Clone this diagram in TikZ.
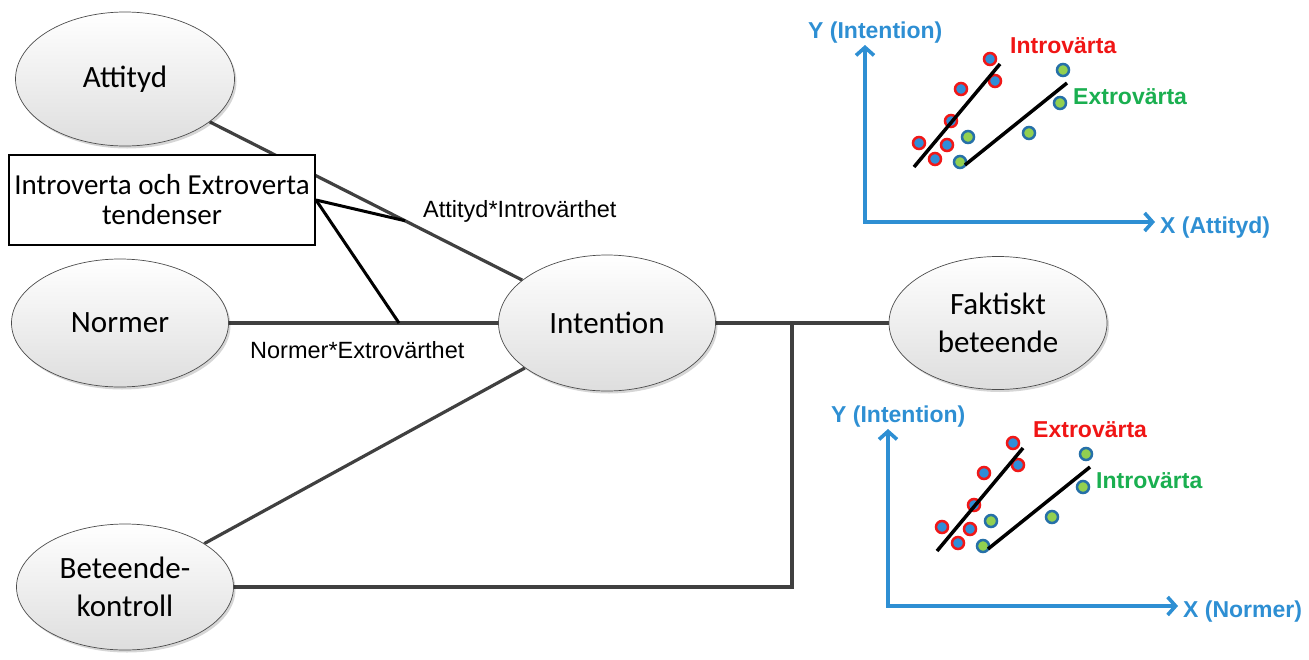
\documentclass[tikz,border=0pt]{standalone}
\usepackage{fontspec}
\setmainfont{Carlito}
\newfontfamily\arialfont{Liberation Sans}
\usetikzlibrary{shapes.geometric,shadows,arrows.meta,calc,backgrounds}

\definecolor{linegray}{HTML}{404040}
\definecolor{axisblue}{HTML}{2E8FD3}
\definecolor{dotblue}{HTML}{2F8ED8}
\definecolor{ringblue}{HTML}{2670A8}
\definecolor{dotgreen}{HTML}{92D050}
\definecolor{ringred}{HTML}{F01818}
\definecolor{labelred}{HTML}{F01515}
\definecolor{labelgreen}{HTML}{1AAF50}

% One small scatter panel: #1 name prefix, #2 x-axis title,
% #3 label of the steep (red-ringed) group, #4 label of the flat (green) group
\newcommand{\scatterpanel}[4]{%
  \coordinate (#1ytip) at (865,45);
  \coordinate (#1xtip) at (1155,222);
  \draw[axisline] (#1ytip) |- (#1xtip);
  \node[axislabel, anchor=base west] (#1ylab) at (808,38) {Y (Intention)};
  \node[axislabel, anchor=base west] (#1xlab) at (1160,233) {#2};
  \node[grouplabel, text=labelred, anchor=base west] (#1rlab) at (1010,53) {#3};
  \node[grouplabel, text=labelgreen, anchor=base west] (#1glab) at (1073,104) {#4};
  \foreach \p in {(990,59),(995,81),(961,89),(951,121),(919,143),(947,145),(935,159)}
    \draw[reddot] \p circle[radius=6];
  \foreach \p in {(1063,70),(1060,103),(968,137),(1029,133),(960,162)}
    \draw[greendot] \p circle[radius=6];
  \draw[fitline] (914,167) -- (1000,64);
  \draw[fitline] (965,165) -- (1067,83);
}

\begin{document}
\begin{tikzpicture}[x=1pt,y=-1pt,
  construct/.style={ellipse, draw=black!70, line width=0.7pt,
    top color=white, bottom color=black!13,
    drop shadow={shadow xshift=2pt, shadow yshift=-2.5pt, fill=black, opacity=0.16},
    align=center, inner sep=0pt, font=\fontsize{31}{38}\selectfont},
  tbox/.style={draw=black, line width=2pt, fill=white, align=center,
    minimum width=306pt, minimum height=90pt, inner sep=0pt,
    font=\fontsize{29}{30}\selectfont},
  link/.style={draw=linegray, line width=3.2pt},
  modlink/.style={draw=black, line width=3pt},
  edgelabel/.style={font=\arialfont\fontsize{23.5}{28}\selectfont, inner sep=0pt},
  axisline/.style={draw=axisblue, line width=3.6pt,
    {Straight Barb[length=8pt,width=18pt]}-{Straight Barb[length=8pt,width=18pt]}},
  axislabel/.style={text=axisblue, inner sep=0pt, font=\arialfont\bfseries\fontsize{23}{26}\selectfont},
  grouplabel/.style={inner sep=0pt, font=\arialfont\bfseries\fontsize{23}{26}\selectfont},
  reddot/.style={draw=ringred, fill=dotblue, line width=2.5pt},
  greendot/.style={draw=ringblue, fill=dotgreen, line width=2.5pt},
  fitline/.style={draw=black, line width=3.5pt},
]
\useasboundingbox (0,0) rectangle (1309,659);

% constructs of the model
\node[construct, minimum width=219pt, minimum height=134pt] (att) at (125,79) {Attityd};
\node[construct, minimum width=217pt, minimum height=128pt] (nor) at (120,323) {Normer};
\node[construct, minimum width=217pt, minimum height=136pt] (int) at (607,323) {Intention};
\node[construct, minimum width=218pt, minimum height=133pt] (fak) at (998,323) {Faktiskt\\beteende};
\node[construct, minimum width=217pt, minimum height=126pt] (bet) at (125,587) {Beteende-\\kontroll};
\node[tbox] (box) at (162,200) {Introverta och Extroverta\\tendenser};

% junction points on the paths
\coordinate (ai) at ($(att)!0.581!(int)$);
\coordinate (ne) at (399,323);
\coordinate (jn) at (792,323);

\begin{pgfonlayer}{background}
  \draw[link] (att) -- (int);
  \draw[link] (nor) -- (int);
  \draw[link] (bet) -- (int);
  \draw[link] (int) -- (fak);
  \draw[link] (bet.east) -- (bet.east -| jn) -- (jn);
  \draw[modlink] (box.east) -- (ai);
  \draw[modlink] (box.east) -- (ne);
\end{pgfonlayer}

\node[edgelabel, anchor=base west] (lai) at (423,217) {Attityd*Introvärthet};
\node[edgelabel, anchor=base west] (lne) at (250,358) {Normer*Extrovärthet};

% the two illustrative scatter panels
\scatterpanel{a}{X (Attityd)}{Introvärta}{Extrovärta}
\begin{scope}[shift={(23,384)}]
  \scatterpanel{b}{X (Normer)}{Extrovärta}{Introvärta}
\end{scope}
\end{tikzpicture}
\end{document}
